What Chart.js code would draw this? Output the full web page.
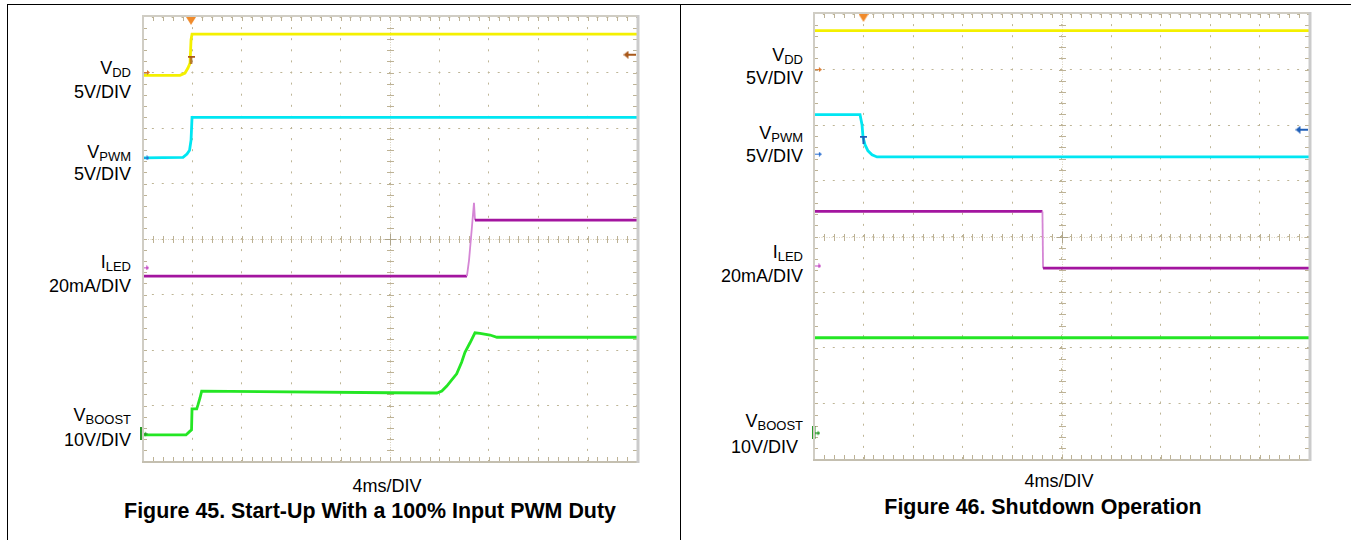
<!DOCTYPE html>
<html>
<head>
<meta charset="utf-8">
<script src="https://cdn.jsdelivr.net/npm/chart.js@4.4.0/dist/chart.umd.min.js"></script>
<style>
  html, body { margin: 0; padding: 0; background: #fff; }
  body { width: 1351px; height: 540px; position: relative; overflow: hidden;
         font-family: "Liberation Sans", Arial, sans-serif; color: #000; }
  .box { position: absolute; left: 7px; top: 4px; width: 1344px; height: 536px;
         border-top: 1px solid #000; border-left: 1px solid #000; }
  .divider { position: absolute; left: 680px; top: 4px; width: 1px; height: 536px; background: #000; }
  canvas { position: absolute; }
  .lbl { position: absolute; font-size: 18px; line-height: 18px; white-space: nowrap; text-align: right; }
  .lbl .s { font-size: 13px; position: relative; top: 3px; }
  .xl { position: absolute; font-size: 18px; line-height: 18px; white-space: nowrap; transform: translateX(-50%); }
  .cap { position: absolute; font-size: 21.4px; line-height: 21px; font-weight: bold;
         white-space: nowrap; transform: translateX(-50%); }
</style>
</head>
<body>
<div class="box"></div>
<div class="divider"></div>

<canvas id="startUp" width="514" height="464" style="left:133px; top:7px;"></canvas>
<canvas id="shutDown" width="515" height="465" style="left:804px; top:4px;"></canvas>

<!-- Figure 45 channel labels -->
<div class="lbl" style="right:1220px; top:59px;">V<span class="s">DD</span></div>
<div class="lbl" style="right:1220px; top:83px;">5V/DIV</div>
<div class="lbl" style="right:1220px; top:143px;">V<span class="s">PWM</span></div>
<div class="lbl" style="right:1220px; top:165px;">5V/DIV</div>
<div class="lbl" style="right:1220px; top:253px;">I<span class="s">LED</span></div>
<div class="lbl" style="right:1220px; top:277px;">20mA/DIV</div>
<div class="lbl" style="right:1220px; top:406px;">V<span class="s">BOOST</span></div>
<div class="lbl" style="right:1220px; top:431px;">10V/DIV</div>
<div class="xl" style="left:387px; top:477px;">4ms/DIV</div>
<div class="cap" style="left:370px; top:501px;">Figure 45. Start-Up With a 100% Input PWM Duty</div>

<!-- Figure 46 channel labels -->
<div class="lbl" style="right:548px; top:46px;">V<span class="s">DD</span></div>
<div class="lbl" style="right:548px; top:69px;">5V/DIV</div>
<div class="lbl" style="right:548px; top:124px;">V<span class="s">PWM</span></div>
<div class="lbl" style="right:548px; top:147px;">5V/DIV</div>
<div class="lbl" style="right:548px; top:243px;">I<span class="s">LED</span></div>
<div class="lbl" style="right:548px; top:267px;">20mA/DIV</div>
<div class="lbl" style="right:548px; top:412px;">V<span class="s">BOOST</span></div>
<div class="lbl" style="right:553px; top:438px;">10V/DIV</div>
<div class="xl" style="left:1059px; top:472px;">4ms/DIV</div>
<div class="cap" style="left:1043px; top:497px;">Figure 46. Shutdown Operation</div>

<script>
// time in ms (4 ms/DIV, 10 divisions), level in screen divisions (0 = bottom, 8 = top)

// Figure 45 - start-up
const upVddT = [0, 3.0, 3.4, 3.64, 3.81, 3.89, 3.97, 40];
const upVddY = [6.95, 6.95, 6.99, 7.08, 7.17, 7.59, 7.69, 7.69];
const upPwmT = [0, 3.24, 3.56, 3.77, 3.89, 3.97, 40];
const upPwmY = [5.46, 5.47, 5.53, 5.60, 5.78, 6.19, 6.19];
const upLedT = [0, 26.23, 26.40, 26.64, 26.80, 26.88, 40];
const upLedY = [3.33, 3.33, 3.62, 4.23, 4.65, 4.34, 4.34];
const upBoostT = [0, 3.48, 3.72, 3.93, 3.97, 4.35, 4.45, 4.62, 4.75, 9.5, 20.0, 23.8, 24.2,
                  24.6, 25.0, 25.4, 25.8, 26.07, 26.48, 26.88, 27.29, 28.1, 28.66, 40];
const upBoostY = [0.47, 0.47, 0.52, 0.56, 0.94, 0.94, 1.01, 1.14, 1.26, 1.25, 1.23, 1.225, 1.26,
                  1.35, 1.46, 1.57, 1.78, 1.96, 2.13, 2.31, 2.30, 2.27, 2.23, 2.23];
const upMarkT = [3.89, 3.89, 0.28, 0.24, 0.22, 0.06, 39.43];
const upMarkY = [7.93, 7.23, 7.00, 5.46, 3.48, 0.49, 7.32];

// Figure 46 - shutdown
const dnVddT = [0, 40];
const dnVddY = [7.70, 7.70];
const dnPwmT = [0, 3.72, 3.88, 3.96, 4.12, 4.36, 4.69, 5.09, 40];
const dnPwmY = [6.19, 6.19, 6.01, 5.79, 5.65, 5.54, 5.47, 5.43, 5.43];
const dnLedT = [0, 18.46, 18.51, 40];
const dnLedY = [4.45, 4.45, 3.43, 3.43];
const dnBoostT = [0, 40];
const dnBoostY = [2.18, 2.18];
const dnMarkT = [4.0, 4.0, 0.35, 0.35, 0.31, 0.2, 39.43];
const dnMarkY = [7.93, 5.74, 7.00, 5.48, 3.47, 0.47, 5.92];

// marker kinds, same order for both screens
const markKinds = ['trig', 'tee', 'arrow', 'arrow', 'arrow', 'gnd', 'back'];

const GRID = '#beb596';
const TICK = '#bdb295';
const colors = { vdd: '#f4f000', pwm: '#00e6f2', led: '#a3159f', ledFast: '#d586d5', boost: '#24e624' };

function pts(t, y) {
  return t.map((v, i) => ({ x: v, y: y[i] }));
}

// little scope glyphs used as point styles
function glyph(kind, color) {
  const c = document.createElement('canvas');
  const g = c.getContext('2d');
  const size = { trig: [10, 8], tee: [7, 8], arrow: [7, 5], gnd: [8, 13], back: [13, 8] }[kind];
  c.width = size[0];
  c.height = size[1];
  g.fillStyle = color;
  g.beginPath();
  if (kind === 'trig') {
    g.moveTo(0, 0); g.lineTo(10, 0); g.lineTo(5, 8); g.closePath(); g.fill();
  } else if (kind === 'tee') {
    g.fillRect(0, 0, 7, 2); g.fillRect(2.5, 0, 2, 8);
  } else if (kind === 'arrow') {
    g.fillRect(0, 2, 5, 1); g.moveTo(4, 0); g.lineTo(7, 2.5); g.lineTo(4, 5); g.closePath(); g.fill();
  } else if (kind === 'gnd') {
    g.fillRect(0, 0, 3, 13); g.fillRect(3, 6, 3, 1.5); g.moveTo(5, 4.5); g.lineTo(8, 6.7); g.lineTo(5, 9); g.closePath(); g.fill();
  } else {
    g.moveTo(0, 4); g.lineTo(5, 0); g.lineTo(5, 8); g.closePath(); g.fill(); g.fillRect(4, 3, 9, 2);
  }
  return c;
}

// minor ticks, centre cross and frame of the scope screen
const graticule = {
  id: 'graticule',
  beforeDatasetsDraw(chart) {
    const { ctx, chartArea: a, scales: { x, y } } = chart;
    const cx = Math.round(x.getPixelForValue(20)) + 0.5;
    const cy = Math.round(y.getPixelForValue(4)) + 0.5;
    ctx.save();
    ctx.lineWidth = 1;
    ctx.strokeStyle = '#d8d0bc';
    ctx.setLineDash([1, 1.5]);
    ctx.beginPath();
    ctx.moveTo(a.left, cy); ctx.lineTo(a.right, cy);
    ctx.moveTo(cx, a.top); ctx.lineTo(cx, a.bottom);
    ctx.stroke();
    ctx.setLineDash([]);
    ctx.strokeStyle = TICK;
    ctx.beginPath();
    for (let i = 1; i < 50; i++) {
      const px = Math.round(x.getPixelForValue(i * 0.8)) + 0.5;
      ctx.moveTo(px, a.top); ctx.lineTo(px, a.top + 4);
      ctx.moveTo(px, a.bottom - 4); ctx.lineTo(px, a.bottom);
      ctx.moveTo(px, cy - 3.5); ctx.lineTo(px, cy + 3.5);
    }
    for (let i = 1; i < 40; i++) {
      const py = Math.round(y.getPixelForValue(i * 0.2)) + 0.5;
      ctx.moveTo(a.left, py); ctx.lineTo(a.left + 4, py);
      ctx.moveTo(a.right - 4, py); ctx.lineTo(a.right, py);
      ctx.moveTo(cx - 3.5, py); ctx.lineTo(cx + 3.5, py);
    }
    ctx.stroke();
    ctx.strokeStyle = '#aea58a';
    ctx.beginPath();
    ctx.moveTo(cx - 6, cy); ctx.lineTo(cx + 6, cy);
    ctx.moveTo(cx, cy - 6); ctx.lineTo(cx, cy + 6);
    ctx.stroke();
    ctx.restore();
  },
  afterDraw(chart) {
    const { ctx, chartArea: a } = chart;
    ctx.save();
    ctx.lineWidth = 2;
    ctx.strokeStyle = '#d0cdc4';
    ctx.beginPath();
    ctx.moveTo(a.left, a.bottom); ctx.lineTo(a.left, a.top - 1); ctx.lineTo(a.right, a.top - 1);
    ctx.stroke();
    ctx.strokeStyle = '#c4bfb0';
    ctx.beginPath();
    ctx.moveTo(a.left - 1, a.bottom + 1); ctx.lineTo(a.right + 1, a.bottom + 1);
    ctx.stroke();
    ctx.lineWidth = 3;
    ctx.strokeStyle = '#cbcbcb';
    ctx.beginPath();
    ctx.moveTo(a.right + 1, a.top - 2); ctx.lineTo(a.right + 1, a.bottom + 2);
    ctx.stroke();
    ctx.restore();
  }
};

function trace(t, y, color) {
  return {
    data: pts(t, y),
    borderColor: color,
    borderWidth: 2.8,
    pointRadius: 0,
    tension: 0,
    order: 2
  };
}

function makeScope(id, sets, markT, markY, markColors) {
  const ledSet = sets[2];
  ledSet.segment = {
    borderColor: s => Math.abs(s.p1.parsed.x - s.p0.parsed.x) < 0.3 ? colors.ledFast : colors.led,
    borderWidth: s => Math.abs(s.p1.parsed.x - s.p0.parsed.x) < 0.3 ? 1.8 : 2.8
  };
  const markers = {
    data: pts(markT, markY),
    showLine: false,
    pointStyle: markKinds.map((k, i) => glyph(k, markColors[i])),
    pointRadius: 5,
    clip: false,
    order: 1
  };
  return new Chart(document.getElementById(id), {
    type: 'line',
    data: { datasets: [markers].concat(sets) },
    options: {
      responsive: false,
      animation: false,
      events: [],
      layout: { padding: 10 },
      plugins: { legend: { display: false }, tooltip: { enabled: false } },
      scales: {
        x: {
          type: 'linear', min: 0, max: 40,
          ticks: { display: false, stepSize: 4 },
          grid: { color: GRID, lineWidth: 1, drawTicks: false },
          border: { display: false, dash: [2, 9.1], dashOffset: 1 }
        },
        y: {
          type: 'linear', min: 0, max: 8,
          ticks: { display: false, stepSize: 1 },
          grid: { color: GRID, lineWidth: 1, drawTicks: false },
          border: { display: false, dash: [2, 7.88], dashOffset: 1 }
        }
      }
    },
    plugins: [graticule]
  });
}

makeScope('startUp', [
  trace(upVddT, upVddY, colors.vdd),
  trace(upPwmT, upPwmY, colors.pwm),
  trace(upLedT, upLedY, colors.led),
  trace(upBoostT, upBoostY, colors.boost)
], upMarkT, upMarkY, ['#f08a2a', '#a8581a', '#d9772a', '#2a6fd0', '#c246c2', '#2a9a2a', '#a8581a']);

makeScope('shutDown', [
  trace(dnVddT, dnVddY, colors.vdd),
  trace(dnPwmT, dnPwmY, colors.pwm),
  trace(dnLedT, dnLedY, colors.led),
  trace(dnBoostT, dnBoostY, colors.boost)
], dnMarkT, dnMarkY, ['#f08a2a', '#1f5fb8', '#d9772a', '#2a6fd0', '#c246c2', '#2a9a2a', '#1f5fb8']);
</script>
</body>
</html>
